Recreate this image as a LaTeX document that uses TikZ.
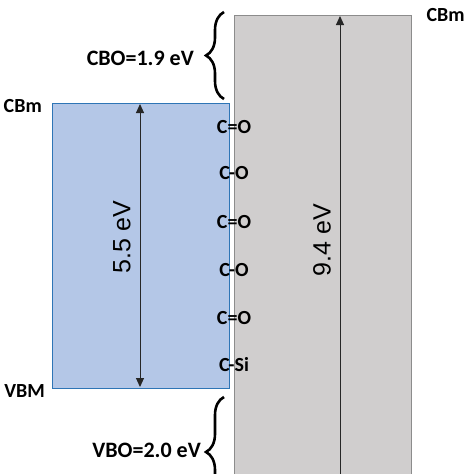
\documentclass[tikz,border=0pt]{standalone}
\usepackage{fontspec}
\setmainfont{Carlito}
\newfontfamily\gapfont{Liberation Sans}
\definecolor{oxideblue}{HTML}{B4C7E7}
\definecolor{oxideedge}{HTML}{2E75B6}
\definecolor{sigray}{HTML}{D0CECE}
\definecolor{siedge}{HTML}{8C8C8C}
\usetikzlibrary{arrows.meta,positioning,decorations.pathreplacing}

\begin{document}
\begin{tikzpicture}[x=1pt,y=-1pt,
    lbl/.style={font=\fontsize{20}{22}\selectfont\bfseries,inner sep=0pt},
    offlbl/.style={font=\fontsize{22}{24}\selectfont\bfseries,inner sep=0pt},
    gaplbl/.style={font=\gapfont\fontsize{25}{27}\selectfont,rotate=90,inner sep=0pt},
    gaparrow/.style={-{Triangle[length=9pt,width=8pt]},line width=1pt,black!85},
    brc/.style={decorate,decoration={brace,amplitude=18pt},line width=2.6pt}]
    \useasboundingbox (0,0) rectangle (474,474);
    \clip (0,0) rectangle (474,474);
    % silicon side
    \node[draw=siedge,line width=1.3pt,fill=sigray,inner sep=0pt,
        minimum width=177,minimum height=520,anchor=north west] (si) at (234,15) {};
    % oxide side
    \node[draw=oxideedge,line width=1.3pt,fill=oxideblue,inner sep=0pt,
        minimum width=177,minimum height=285,anchor=north west] (ox) at (52,103) {};
    % band gaps
    \coordinate (oxtop) at (140,104);
    \coordinate (oxbot) at (140,387);
    \draw[gaparrow,{Triangle[length=9pt,width=8pt]}-{Triangle[length=9pt,width=8pt]}] (oxbot) -- (oxtop);
    \coordinate (sitop) at (340,16);
    \coordinate (sibot) at (340,480);
    \draw[gaparrow] (sibot) -- (sitop);
    \node[gaplbl] (oxgap) at (122,237) {5.5 eV};
    \node[gaplbl] (sigap) at (322,240) {9.4 eV};
    % band edges
    \node[lbl,left=10pt of ox.north west,yshift=-3pt] (cbmox) {CBm};
    \node[lbl,left=7pt of ox.south west,yshift=-2pt] (vbmox) {VBM};
    \node[lbl,right=14pt of si.north east] (cbmsi) {CBm};
    % interface bonds
    \foreach \b/\y [count=\i] in {C=O/127,C-O/173,C=O/222,C-O/270,C=O/318,C-Si/365}
        \node[lbl] (bond\i) at (234,\y) {\b};
    % offsets
    \coordinate (cbotop) at (224,12);
    \coordinate (cbobot) at (224,99);
    \draw[brc] (cbobot) -- (cbotop);
    \node[offlbl,anchor=east] (cbo) at (194,58) {CBO=1.9 eV};
    \coordinate (vbotop) at (224,397);
    \coordinate (vbobot) at (224,507);
    \draw[brc] (vbobot) -- (vbotop);
    \node[offlbl,anchor=east] (vbo) at (201,450) {VBO=2.0 eV};
\end{tikzpicture}
\end{document}
